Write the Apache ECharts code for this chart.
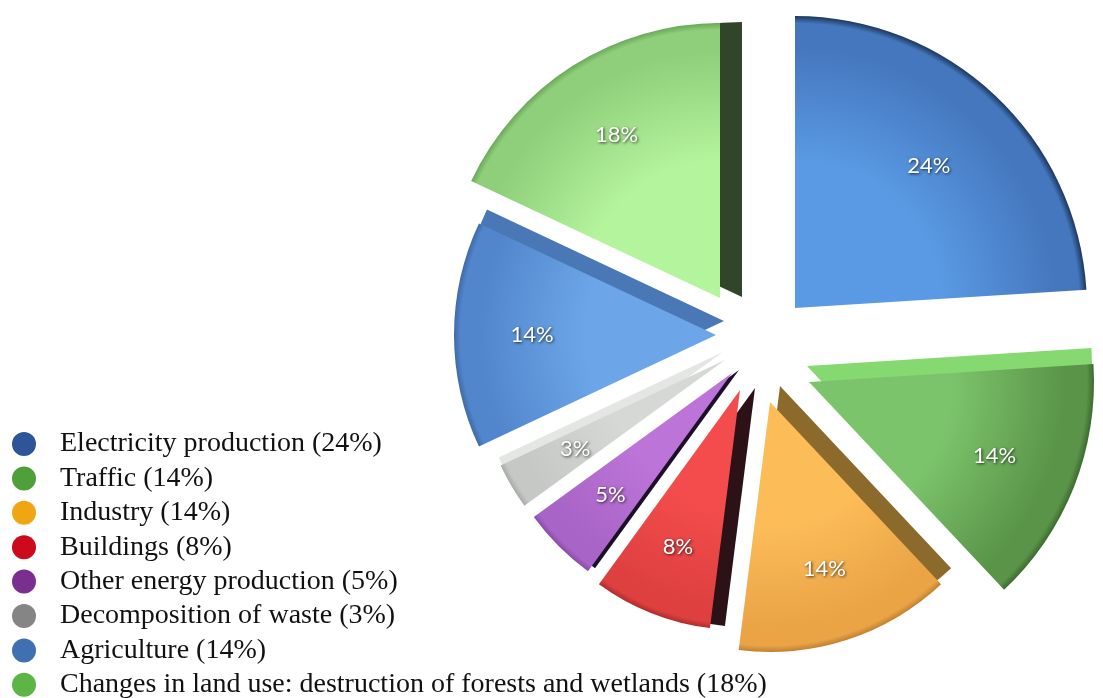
<!DOCTYPE html>
<html>
<head>
<meta charset="utf-8">
<script src="https://cdn.jsdelivr.net/npm/echarts@6/dist/echarts.min.js"></script>
<style>
  html, body { margin: 0; padding: 0; background: #ffffff; }
  #chart { width: 1103px; height: 698px; }
</style>
</head>
<body>
<div id="chart"></div>
<script>
// Sources of greenhouse gas emissions, share in percent
const categories = [
  'Electricity production',
  'Traffic',
  'Industry',
  'Buildings',
  'Other energy production',
  'Decomposition of waste',
  'Agriculture',
  'Changes in land use: destruction of forests and wetlands'
];
const shares = [24, 14, 14, 8, 5, 3, 14, 18];

// Exploded layout: each slice gets its own pie centre (the tip of the wedge) and radius
const sliceCenters = [[795, 308], [809, 382], [770, 402], [740, 390], [732, 373], [725, 360], [716, 335], [720, 298]];
const sliceRadii = [292, 285, 250, 240, 245, 248, 262, 275];

// Styling: legend dots, face shading (inner / outer / rim) and the side walls
const legendColors = ['#2d5597', '#4f9f3a', '#f0a512', '#cc0a1c', '#7a2e8e', '#858585', '#4170b2', '#5cb545'];
const faceInner = ['#5a9ae4', '#7cc46c', '#fcbc58', '#f44c4c', '#bd74d8', '#d6d8d6', '#6ca6e8', '#b4f49c'];
const faceOuter = ['#4477bd', '#5a9448', '#eaa446', '#de4040', '#a864c6', '#c6c8c6', '#5286cc', '#8fce7a'];
const faceRim   = ['#1c365c', '#3c6a30', '#c08030', '#b02c2c', '#8a4aa8', '#a8aaa8', '#3e6aa8', '#6aa85a'];
const wallColors = ['rgba(0,0,0,0)', '#86d870', '#8c6a2c', '#2c1216', '#1c1028', '#e4e6e4', '#4a78b6', '#30452a'];
const wallShift = [[0, 0], [-2, -16], [10, -16], [15, -2], [7, -3], [-2, -8], [8, -14], [22, -1]];
const labelRing = [0.32, 0.38, 0.38, 0.38, 0.38, 0.38, 0.38, 0.38];

const HIDDEN = 'rgba(0,0,0,0)';

function faceGradient(i) {
  return {
    type: 'radial', x: sliceCenters[i][0], y: sliceCenters[i][1], r: sliceRadii[i], global: true,
    colorStops: [
      { offset: 0, color: faceInner[i] },
      { offset: 0.5, color: faceInner[i] },
      { offset: 0.9, color: faceOuter[i] },
      { offset: 0.975, color: faceOuter[i] },
      { offset: 1, color: faceRim[i] }
    ]
  };
}

// One pie per slice: the full data set keeps the angles, only slice k is painted
function faceSeries(k) {
  return {
    type: 'pie',
    center: sliceCenters[k],
    radius: [0, sliceRadii[k]],
    startAngle: 90,
    clockwise: true,
    avoidLabelOverlap: false,
    silent: true,
    emphasis: { disabled: true },
    label: { show: false },
    labelLine: { show: false },
    z: 2,
    data: categories.map((name, i) => ({
      name: name,
      value: shares[i],
      itemStyle: i === k ? {
        color: faceGradient(i),
        shadowColor: wallColors[i],
        shadowBlur: 0,
        shadowOffsetX: wallShift[i][0],
        shadowOffsetY: wallShift[i][1]
      } : { color: HIDDEN }
    }))
  };
}

// Transparent ring that carries the percentage label of slice k
function labelSeries(k) {
  const r = sliceRadii[k];
  return {
    type: 'pie',
    center: sliceCenters[k],
    radius: [Math.round(r * labelRing[k]), r],
    startAngle: 90,
    clockwise: true,
    avoidLabelOverlap: false,
    silent: true,
    emphasis: { disabled: true },
    itemStyle: { color: HIDDEN },
    labelLine: { show: false },
    z: 5,
    data: categories.map((name, i) => ({
      name: name,
      value: shares[i],
      label: {
        show: i === k,
        position: 'inside',
        formatter: '{c}%',
        color: '#ffffff',
        fontFamily: 'Lato',
        fontSize: 22,
        textShadowColor: 'rgba(0,0,0,0.75)',
        textShadowBlur: 3,
        textShadowOffsetX: 1,
        textShadowOffsetY: 1
      }
    }))
  };
}

const chart = echarts.init(document.getElementById('chart'), null, { renderer: 'canvas' });

chart.setOption({
  backgroundColor: '#ffffff',
  animation: false,
  legend: {
    orient: 'vertical',
    left: 12,
    top: 430,
    height: 280,
    padding: 0,
    icon: 'circle',
    itemWidth: 24,
    itemHeight: 24,
    itemGap: 6.4,
    selectedMode: false,
    data: categories.map((name, i) => ({ name: name, itemStyle: { color: legendColors[i] } })),
    formatter: name => name + ' (' + shares[categories.indexOf(name)] + '%)',
    textStyle: {
      fontFamily: 'Liberation Serif',
      fontSize: 28,
      color: '#111111',
      padding: [0, 0, 0, 19]
    }
  },
  series: categories.map((_, k) => faceSeries(k)).concat(categories.map((_, k) => labelSeries(k)))
});
</script>
</body>
</html>
